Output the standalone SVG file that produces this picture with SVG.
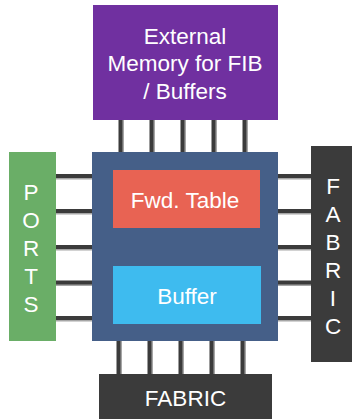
<svg xmlns="http://www.w3.org/2000/svg" width="352" height="419" viewBox="0 0 352 419">
<style>
text{font-family:"Liberation Sans",Arial,sans-serif;font-size:22.5px;fill:#ffffff;text-anchor:middle}
.d{stroke:#3b3b3b;stroke-width:4}
.s{stroke:#a6a6a6;stroke-width:4}
</style>
<rect width="352" height="419" fill="#ffffff"/>
<g id="connectors">
<g class="s">
<path d="M122 120V152M153 120V152M184 120V152M215 120V152M246 120V152"/>
<path d="M120 341V374M151 341V374M182 341V374M213 341V374M244 341V374"/>
<path d="M56 177.5H92M56 212.5H92M56 248.5H92M56 284H92M56 319.5H92"/>
<path d="M278 177.5H311M278 212.5H311M278 248.5H311M278 284H311M278 319.5H311"/>
</g>
<g class="d">
<path d="M120.5 120V152M151.5 120V152M182.5 120V152M213.5 120V152M244.5 120V152"/>
<path d="M118.5 341V374M149.5 341V374M180.5 341V374M211.5 341V374M242.5 341V374"/>
<path d="M56 176H92M56 211H92M56 247H92M56 282.5H92M56 318H92"/>
<path d="M278 176H311M278 211H311M278 247H311M278 282.5H311M278 318H311"/>
</g>
</g>
<g id="memory">
<rect x="93" y="5" width="185" height="115" fill="#7030a0"/>
<text x="185" y="43.5">External</text>
<text x="185" y="71">Memory for FIB</text>
<text x="185" y="98.5">/ Buffers</text>
</g>
<g id="chip">
<rect x="92" y="152" width="186" height="189" fill="#455f88"/>
</g>
<g id="fwd-table">
<rect x="113" y="170" width="147" height="58" fill="#e86353"/>
<text x="185" y="208">Fwd. Table</text>
</g>
<g id="buffer">
<rect x="113" y="266" width="148" height="58" fill="#3ebbef"/>
<text x="187" y="303.5">Buffer</text>
</g>
<g id="ports">
<rect x="9" y="152" width="47" height="189" fill="#6aae67"/>
<text x="31" y="199.5">P</text>
<text x="31" y="227.5">O</text>
<text x="31" y="255.5">R</text>
<text x="31" y="283.5">T</text>
<text x="31" y="311.5">S</text>
</g>
<g id="fabric-right">
<rect x="311" y="146" width="45" height="216" fill="#3b3b3b"/>
<text x="333" y="193.5">F</text>
<text x="333" y="221.5">A</text>
<text x="333" y="249.5">B</text>
<text x="333" y="277.5">R</text>
<text x="333" y="305.5">I</text>
<text x="333" y="333.5">C</text>
</g>
<g id="fabric-bottom">
<rect x="99" y="374" width="173" height="50" fill="#3b3b3b"/>
<text x="185.5" y="406">FABRIC</text>
</g>
</svg>
